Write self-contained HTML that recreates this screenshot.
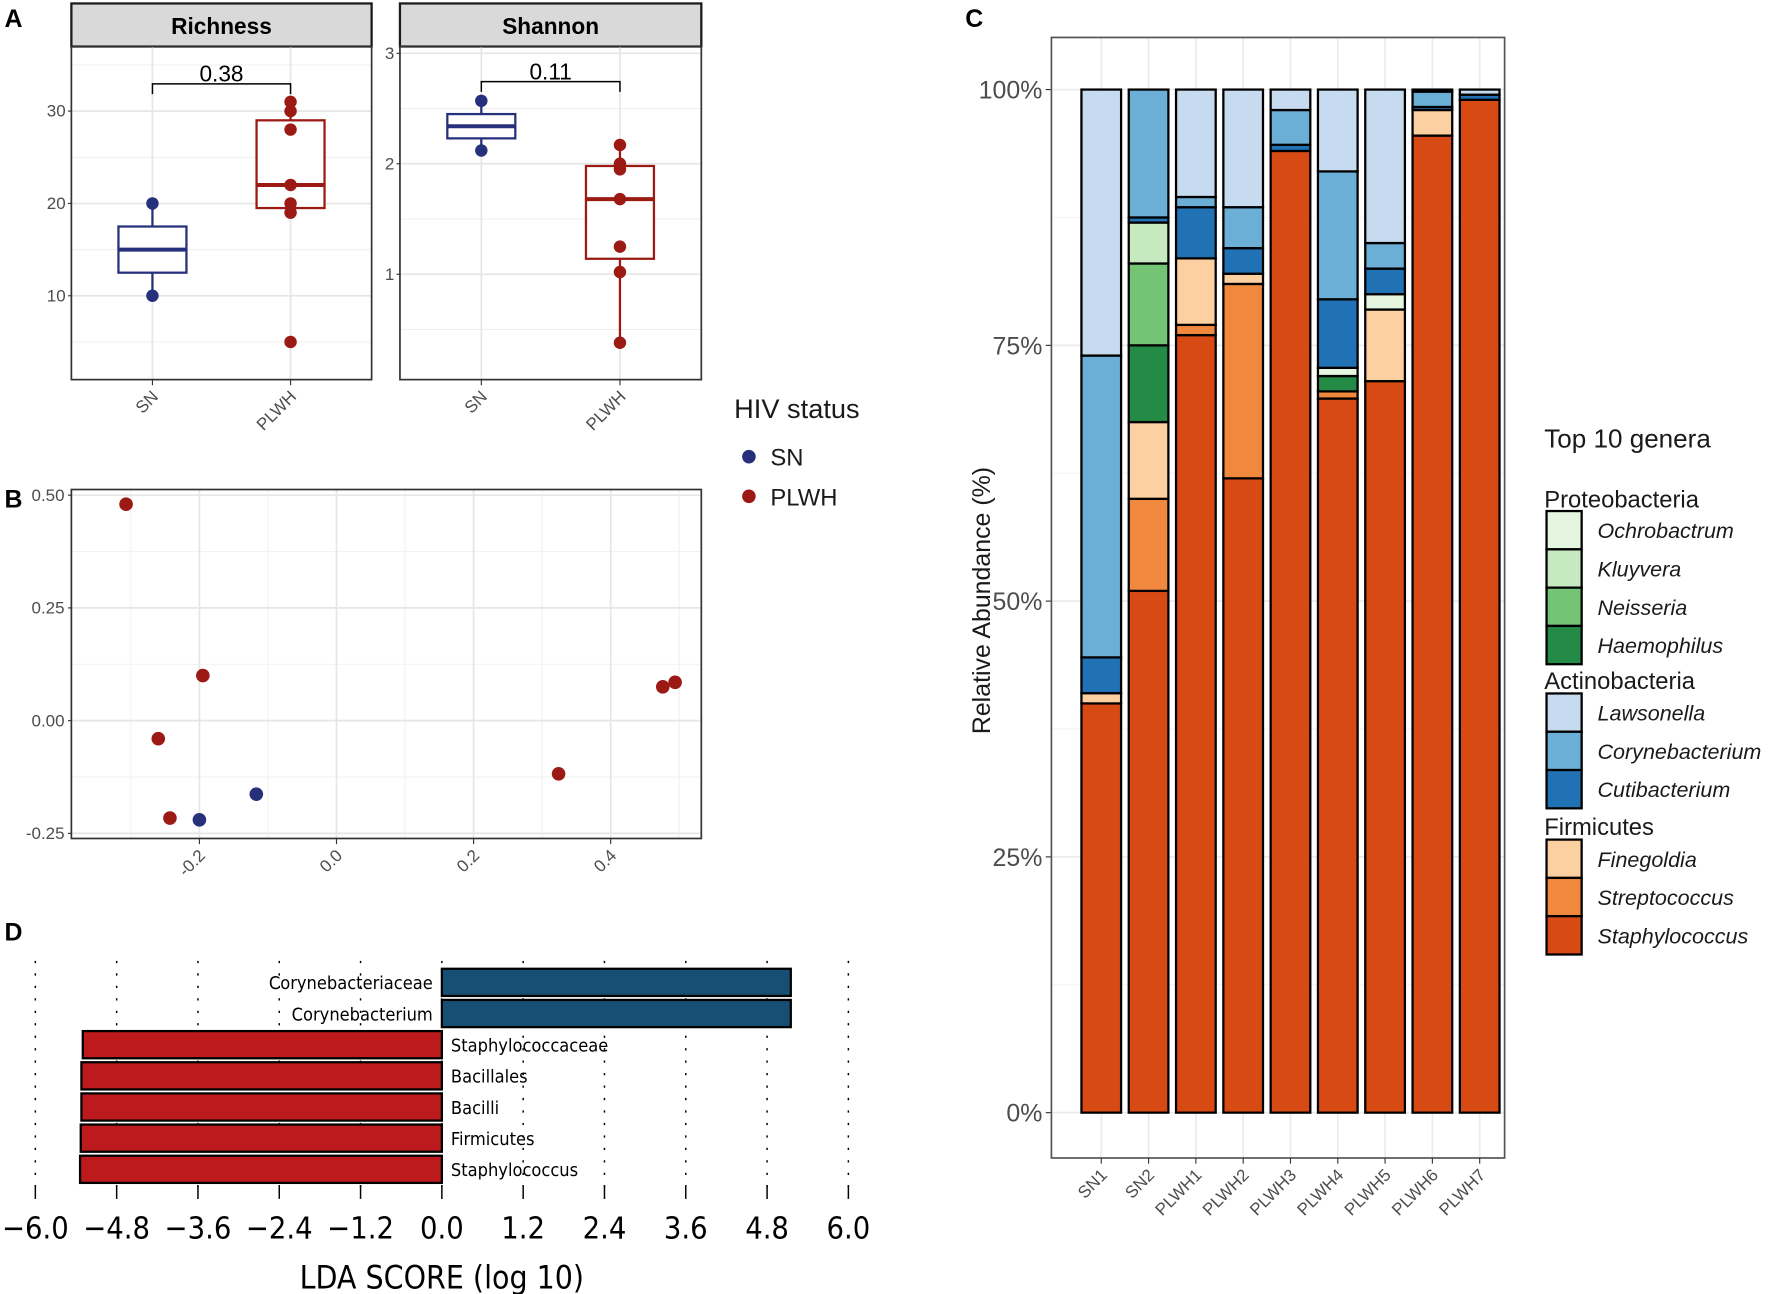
<!DOCTYPE html>
<html><head><meta charset="utf-8">
<style>
html,body{margin:0;padding:0;background:#fff;}
svg{display:block;font-family:"Liberation Sans",sans-serif;}
</style></head>
<body>
<svg id="fig" width="1772" height="1294" viewBox="0 0 1564 1142" xmlns="http://www.w3.org/2000/svg">
<rect x="0" y="0" width="1564" height="1142" fill="#fff"/>
<g font-weight="bold" font-size="22" fill="#000">
<text x="4" y="24">A</text>
<text x="4" y="448">B</text>
<text x="852" y="24">C</text>
<text x="4" y="830">D</text>
</g>
<g id="gA"></g>
<g id="gB"></g>
<g id="gC"></g>
<g id="gD"></g>
</svg>
<script>
// ---------- Panel A data ----------
const groups = ["SN","PLWH"];
const richSN = [10,20];
const richPLWH = [5,19,20,22,28,30,31];
const richBox = [[12.5,15,17.5,10,20],[19.5,22,29,19,31]]; // q1, median, q3, whiskerLo, whiskerHi
const shanSN = [2.12,2.57];
const shanPLWH = [0.38,1.02,1.25,1.68,1.95,2.0,2.17];
const shanBox = [[2.23,2.34,2.45,2.12,2.57],[1.14,1.68,1.98,0.38,2.17]];
const richTicks = [10,20,30];
const shanTicks = [1,2,3];
const pvals = ["0.38","0.11"];
// ---------- Panel B data ----------
const pcoaX_PLWH = [-0.307,-0.195,-0.26,-0.243,0.324,0.476,0.494];
const pcoaY_PLWH = [0.48,0.10,-0.04,-0.216,-0.118,0.075,0.085];
const pcoaX_SN = [-0.2,-0.117];
const pcoaY_SN = [-0.22,-0.163];
const pcoaXTicks = [-0.2,0.0,0.2,0.4];
const pcoaYTicks = [-0.25,0.00,0.25,0.50];
const pcoaYLabels = ["-0.25","0.00","0.25","0.50"];
// ---------- Panel C data ----------
const samples = ["SN1","SN2","PLWH1","PLWH2","PLWH3","PLWH4","PLWH5","PLWH6","PLWH7"];
const genera = ["Staphylococcus","Streptococcus","Finegoldia","Haemophilus","Neisseria","Kluyvera","Ochrobactrum","Cutibacterium","Corynebacterium","Lawsonella"];
const staph = [40,51,76,62,94,69.8,71.5,95.5,99];
const strep = [0,9,1,19,0,0.7,0,0,0];
const fineg = [1,7.5,6.5,1,0,0,7,2.5,0];
const haemo = [0,7.5,0,0,0,1.5,0,0,0];
const neiss = [0,8,0,0,0,0,0,0,0];
const kluyv = [0,4,0,0,0,0,0,0,0];
const ochro = [0,0,0,0,0,0.8,1.5,0,0];
const cutib = [3.5,0.5,5,2.5,0.6,6.7,2.5,0.3,0.5];
const coryn = [29.5,12.5,1,4,3.4,12.5,2.5,1.5,0];
const lawso = [26,0,10.5,11.5,2,8,15,0.2,0.5];
const abTicks = [0,25,50,75,100];
const genusColors = ["#d84a14","#f0883e","#fdd0a2","#238b45","#74c476","#c7e9c0","#e5f5e0","#2171b5","#6baed6","#c6dbef"];
// ---------- Panel D data ----------
const ldaTaxa = ["Corynebacteriaceae","Corynebacterium","Staphylococcaceae","Bacillales","Bacilli","Firmicutes","Staphylococcus"];
const ldaScores = [5.15,5.15,-5.3,-5.32,-5.32,-5.33,-5.34];
const ldaTicks = [-6.0,-4.8,-3.6,-2.4,-1.2,0.0,1.2,2.4,3.6,4.8,6.0];

const NS="http://www.w3.org/2000/svg";
function mk(parent,tag,attrs,text){const e=document.createElementNS(NS,tag);for(const k in attrs)e.setAttribute(k,attrs[k]);if(text!==undefined)e.textContent=text;parent.appendChild(e);return e;}
const NAVY="#27307a", RED="#9b1a14";

// ===== Panel A =====
const gA=document.getElementById('gA');
function facet(x0,x1,title,ymap,ticks,minor,box,ptsSN,ptsPL,pv,brY,idx){
  const top=41,bot=335;
  let s=mk(gA,'rect',{x:x0,y:3,width:x1-x0,height:38,fill:'#d9d9d9',stroke:'#1a1a1a','stroke-width':2});
  
  
  let t=mk(gA,'text',{x:(x0+x1)/2,y:30,'text-anchor':'middle','font-size':20,'font-weight':'bold'},title);
  
  
  const xs=[x0+(x1-x0)*0.27,x0+(x1-x0)*0.73];
  minor.forEach(v=>{mk(gA,'line',{x1:x0,x2:x1,y1:ymap(v),y2:ymap(v),stroke:'#f0f0f0','stroke-width':1});});
  ticks.forEach(v=>{mk(gA,'line',{x1:x0,x2:x1,y1:ymap(v),y2:ymap(v),stroke:'#e6e6e6','stroke-width':1.5});
    let tl=mk(gA,'text',{x:x0-5,y:ymap(v)+5,'text-anchor':'end','font-size':15,fill:'#4d4d4d'},String(v));
    
    
    mk(gA,'line',{x1:x0-3,x2:x0,y1:ymap(v),y2:ymap(v),stroke:'#333'});});
  xs.forEach(x=>mk(gA,'line',{x1:x,x2:x,y1:top,y2:bot,stroke:'#e6e6e6','stroke-width':1.5}));
  [0,1].forEach(i=>{
    const b=box[i],c=i==0?NAVY:RED,x=xs[i],w=30;
    mk(gA,'line',{x1:x,x2:x,y1:ymap(b[3]),y2:ymap(b[0]),stroke:c,'stroke-width':2});
    mk(gA,'line',{x1:x,x2:x,y1:ymap(b[2]),y2:ymap(b[4]),stroke:c,'stroke-width':2});
    let r=mk(gA,'rect',{x:x-w,y:ymap(b[2]),width:2*w,height:ymap(b[0])-ymap(b[2]),fill:'#fff',stroke:c,'stroke-width':2});
    
    
    mk(gA,'line',{x1:x-w,x2:x+w,y1:ymap(b[1]),y2:ymap(b[1]),stroke:c,'stroke-width':3.5});
    (i==0?ptsSN:ptsPL).forEach(v=>{let p=mk(gA,'circle',{cx:x,cy:ymap(v),r:5.5,fill:c});
      
      });
    mk(gA,'line',{x1:x,x2:x,y1:bot,y2:bot+5,stroke:'#333'});
    let xl=mk(gA,'text',{x:0,y:0,'text-anchor':'end','font-size':15,fill:'#4d4d4d',transform:`translate(${x+6},${bot+16}) rotate(-45)`},groups[i]);
    
    
  });
  mk(gA,'rect',{x:x0,y:top,width:x1-x0,height:bot-top,fill:'none',stroke:'#333','stroke-width':1.5});
  mk(gA,'path',{d:`M${xs[0]},${brY+9}V${brY}H${xs[1]}V${brY+9}`,fill:'none',stroke:'#000','stroke-width':1.3});
  let pt=mk(gA,'text',{x:(xs[0]+xs[1])/2,y:brY-2,'text-anchor':'middle','font-size':20},pv);
  
  
}
facet(63,328,"Richness",v=>261-(v-10)*8.15,richTicks,[5,15,25,35],richBox,richSN,richPLWH,pvals[0],74,0);
facet(353,619,"Shannon",v=>242-(v-1)*97.5,shanTicks,[0.5,1.5,2.5],shanBox,shanSN,shanPLWH,pvals[1],72,1);
// legend HIV
let lt=mk(gA,'text',{x:648,y:369,'font-size':24,fill:'#1a1a1a'},"HIV status");


[["SN",NAVY,403],["PLWH",RED,438]].forEach(d=>{
  let c=mk(gA,'circle',{cx:661,cy:d[2],r:6,fill:d[1]});
  
  
  let t=mk(gA,'text',{x:680,y:d[2]+8,'font-size':21,fill:'#1a1a1a'},d[0]);
  
  
});

// ===== Panel B =====
const gB=document.getElementById('gB');
const bx=v=>297+v*605, by=v=>636-v*398;
const bL=63,bR=619,bT=432,bBt=740;
[-0.3,-0.1,0.1,0.3,0.5].forEach(v=>mk(gB,'line',{x1:bx(v),x2:bx(v),y1:bT,y2:bBt,stroke:'#f2f2f2'}));
[-0.125,0.125,0.375].forEach(v=>mk(gB,'line',{x1:bL,x2:bR,y1:by(v),y2:by(v),stroke:'#f2f2f2'}));
pcoaXTicks.forEach(v=>{mk(gB,'line',{x1:bx(v),x2:bx(v),y1:bT,y2:bBt,stroke:'#e6e6e6','stroke-width':1.5});
  mk(gB,'line',{x1:bx(v),x2:bx(v),y1:bBt,y2:bBt+5,stroke:'#333'});
  let t=mk(gB,'text',{x:0,y:0,'text-anchor':'end','font-size':15,fill:'#4d4d4d',transform:`translate(${bx(v)+6},${bBt+16}) rotate(-45)`},v.toFixed(1));
  
  });
pcoaYTicks.forEach((v,i)=>{mk(gB,'line',{x1:bL,x2:bR,y1:by(v),y2:by(v),stroke:'#e6e6e6','stroke-width':1.5});
  mk(gB,'line',{x1:bL-3,x2:bL,y1:by(v),y2:by(v),stroke:'#333'});
  let t=mk(gB,'text',{x:bL-6,y:by(v)+5,'text-anchor':'end','font-size':15,fill:'#4d4d4d'},pcoaYLabels[i]);
  
  });
mk(gB,'rect',{x:bL,y:bT,width:bR-bL,height:bBt-bT,fill:'none',stroke:'#333','stroke-width':1.5});
pcoaX_PLWH.forEach((v,i)=>{let c=mk(gB,'circle',{cx:bx(v),cy:by(pcoaY_PLWH[i]),r:6,fill:RED});
  
  });
pcoaX_SN.forEach((v,i)=>{let c=mk(gB,'circle',{cx:bx(v),cy:by(pcoaY_SN[i]),r:6,fill:NAVY});
  
  });

// ===== Panel C =====
const gC=document.getElementById('gC');
const cL=928,cR=1328,cT=33,cB=1022;
const cy=v=>982-v*9.03, cx=i=>972+i*41.75;
samples.forEach((s,i)=>mk(gC,'line',{x1:cx(i),x2:cx(i),y1:cT,y2:cB,stroke:'#ebebeb','stroke-width':1.5}));
[12.5,37.5,62.5,87.5].forEach(v=>mk(gC,'line',{x1:cL,x2:cR,y1:cy(v),y2:cy(v),stroke:'#f4f4f4'}));
abTicks.forEach(v=>{mk(gC,'line',{x1:cL,x2:cR,y1:cy(v),y2:cy(v),stroke:'#ebebeb','stroke-width':1.5});
  mk(gC,'line',{x1:cL-5,x2:cL,y1:cy(v),y2:cy(v),stroke:'#333'});
  let t=mk(gC,'text',{x:cL-8,y:cy(v)+8,'text-anchor':'end','font-size':22,fill:'#4d4d4d'},v+"%");
  
  });
mk(gC,'rect',{x:cL,y:cT,width:cR-cL,height:cB-cT,fill:'none',stroke:'#555','stroke-width':1.5});
const series=[staph,strep,fineg,haemo,neiss,kluyv,ochro,cutib,coryn,lawso];
samples.forEach((s,i)=>{
  let acc=0;
  series.forEach((arr,g)=>{const v=arr[i]; if(v<=0)return;
    let r=mk(gC,'rect',{x:cx(i)-17.5,y:cy(acc+v),width:35,height:v*9.03,fill:genusColors[g],stroke:'#000','stroke-width':2});
    
    
    acc+=v;});
  mk(gC,'line',{x1:cx(i),x2:cx(i),y1:cB,y2:cB+5,stroke:'#333'});
  let t=mk(gC,'text',{x:0,y:0,'text-anchor':'end','font-size':15,fill:'#4d4d4d',transform:`translate(${cx(i)+6},${cB+16}) rotate(-45)`},s);
  
  
});
let yt=mk(gC,'text',{x:0,y:0,'text-anchor':'middle','font-size':22,fill:'#1a1a1a',transform:'translate(874,530) rotate(-90)'},"Relative Abundance (%)");


let ct=mk(gC,'text',{x:1363,y:395,'font-size':23,fill:'#1a1a1a'},"Top 10 genera");


const legGroups=[["Proteobacteria",448,[6,5,4,3],451],["Actinobacteria",608,[9,8,7],612],["Firmicutes",737,[2,1,0],741]];
legGroups.forEach(gp=>{
  let h=mk(gC,'text',{x:1363,y:gp[1],'font-size':21,fill:'#1a1a1a'},gp[0]);
  
  
  gp[2].forEach((g,k)=>{const y=gp[3]+k*33.8;
    let r=mk(gC,'rect',{x:1365,y:y,width:31,height:33.8,fill:genusColors[g],stroke:'#000','stroke-width':2});
    
    
    let t=mk(gC,'text',{x:1410,y:y+24,'font-size':19,'font-style':'italic',fill:'#1a1a1a'},genera[g]);
    
    });
});

// ===== Panel D =====
const gD=document.getElementById('gD');
const dx=v=>390+v*59.8;
ldaTicks.forEach(v=>{
  mk(gD,'line',{x1:dx(v),x2:dx(v),y1:848,y2:1058,stroke:'#000','stroke-width':1.3,'stroke-dasharray':'2,9'});
  mk(gD,'line',{x1:dx(v),x2:dx(v),y1:1046,y2:1058,stroke:'#000','stroke-width':1.3});
  let t=mk(gD,'text',{x:dx(v),y:1093,'text-anchor':'middle','font-size':27,fill:'#000','font-family':'"DejaVu Sans Condensed","DejaVu Sans",sans-serif'},(v<0?"\u2212":"")+Math.abs(v).toFixed(1));
  
  });
ldaTaxa.forEach((n,i)=>{
  const v=ldaScores[i],y=855+i*27.5,x0=dx(Math.min(0,v)),w=Math.abs(dx(v)-dx(0));
  let r=mk(gD,'rect',{x:x0,y:y,width:w,height:24,fill:v>0?'#174f74':'#bd1a1e',stroke:'#000','stroke-width':2});
  
  
  let t=mk(gD,'text',{x:v>0?dx(0)-8:dx(0)+8,y:y+18,'text-anchor':v>0?'end':'start','font-size':16,fill:'#000','font-family':'"DejaVu Sans Condensed","DejaVu Sans",sans-serif'},n);
  
  
});
let dt=mk(gD,'text',{x:390,y:1137,'text-anchor':'middle','font-size':28,fill:'#000','font-family':'"DejaVu Sans Condensed","DejaVu Sans",sans-serif'},"LDA SCORE (log 10)");


</script>
</body></html>
